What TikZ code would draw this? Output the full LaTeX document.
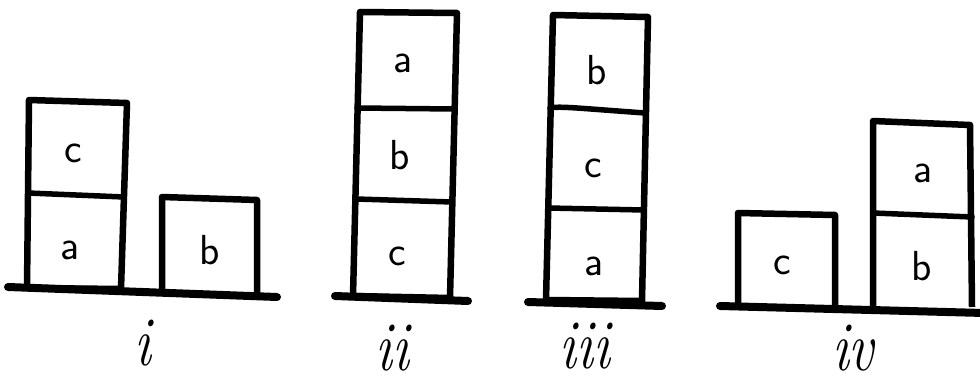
\documentclass[tikz,border=0pt]{standalone}
\usepackage{fontspec}
\begin{document}
\begin{tikzpicture}[x=1pt,y=-1pt,
  block/.style={line width=6.5pt,line join=round},
  divider/.style={line width=5.5pt,line cap=round},
  ground/.style={line width=8pt,line cap=round},
  lbl/.style={font=\sffamily\fontsize{42}{42}\selectfont,inner sep=0pt},
  num/.style={font=\itshape\fontsize{56}{56}\selectfont,inner sep=0pt,yscale=1.25}]
\useasboundingbox (0,0) rectangle (980,385);
% panel i
\draw[block] (29,100) -- (127,103) -- (121,289) -- (27,288) -- cycle;
\draw[divider] (28,193) -- (124,197);
\draw[block] (162,292) -- (162,197) -- (257,200) -- (257,293);
\draw[ground] (8,287) -- (277,297);
\node[lbl] (ic) at (73,153) {c};
\node[lbl] (ia) at (70,250) {a};
\node[lbl] (ib) at (210,250) {b};
\node[num] (ni) at (143,343) {i};
% panel ii
\draw[block] (360,12) -- (457,13) -- (450,298) -- (353,296) -- cycle;
\draw[divider] (357,108) -- (454,109);
\draw[divider] (356,199) -- (452,202);
\draw[ground] (335,296) -- (468,301);
\node[lbl] (iia) at (403,63) {a};
\node[lbl] (iib) at (400,155) {b};
\node[lbl] (iic) at (397,256) {c};
\node[num] (nii) at (392,348) {ii};
% panel iii
\draw[block] (553,15) -- (648,17) -- (642,301) -- (546,300) -- cycle;
\draw[divider] (550,108) .. controls (560,106) and (575,108) .. (645,113);
\draw[divider] (548,208) -- (644,210);
\draw[ground] (528,302) -- (662,306);
\node[lbl] (iiib) at (597,70) {b};
\node[lbl] (iiic) at (593,168) {c};
\node[lbl] (iiia) at (594,266) {a};
\node[num] (niii) at (585,346) {iii};
% panel iv
\draw[block] (738,304) -- (738,213) -- (835,215) -- (835,305);
\draw[block] (873,307) -- (873,121) -- (970,125) -- (972,307);
\draw[divider] (873,213) -- (972,217);
\draw[ground] (720,306) -- (984,313);
\node[lbl] (iva) at (923,173) {a};
\node[lbl] (ivb) at (922,266) {b};
\node[lbl] (ivc) at (782,265) {c};
\node[num] (niv) at (853,348) {iv};
\end{tikzpicture}
\end{document}
